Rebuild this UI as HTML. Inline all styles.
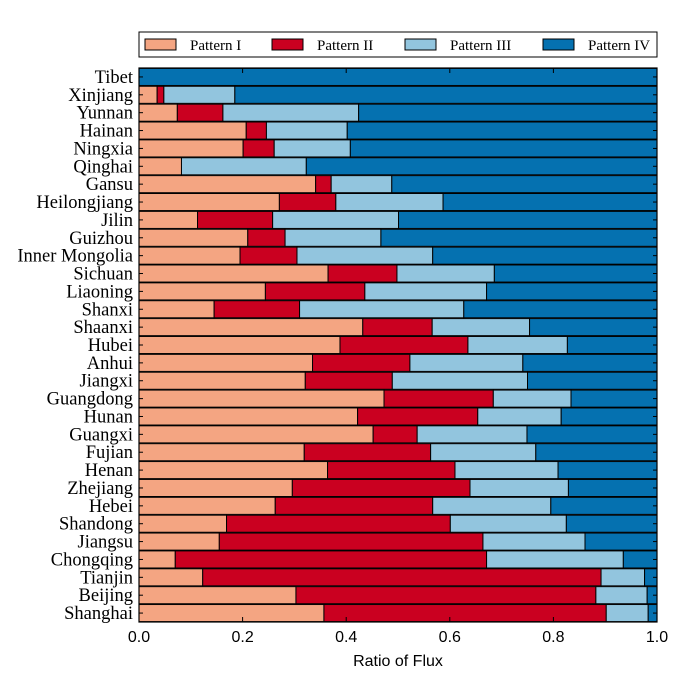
<!DOCTYPE html>
<html><head><meta charset="utf-8"><style>
body{margin:0;background:#fff;width:692px;height:692px;overflow:hidden}
svg text{fill:#000}
</style></head><body>
<svg id="chart" width="692" height="692" xmlns="http://www.w3.org/2000/svg">
<rect x="139" y="32" width="518" height="25" fill="#fff" stroke="#000" stroke-width="1"/>
<g id="legend"></g>
<g id="bars"></g>
<rect x="139" y="68" width="518" height="554" fill="none" stroke="#000" stroke-width="1.2"/>
<g id="axes"></g>
<text x="398" y="666" text-anchor="middle" font-family="Liberation Sans, sans-serif" font-size="16">Ratio of Flux</text>
</svg>
<script>
const categories=["Tibet","Xinjiang","Yunnan","Hainan","Ningxia","Qinghai","Gansu","Heilongjiang","Jilin","Guizhou","Inner Mongolia","Sichuan","Liaoning","Shanxi","Shaanxi","Hubei","Anhui","Jiangxi","Guangdong","Hunan","Guangxi","Fujian","Henan","Zhejiang","Hebei","Shandong","Jiangsu","Chongqing","Tianjin","Beijing","Shanghai"];
const patternI=[0,0.035,0.074,0.207,0.201,0.082,0.341,0.271,0.113,0.210,0.195,0.365,0.244,0.145,0.432,0.388,0.335,0.321,0.473,0.422,0.452,0.319,0.364,0.296,0.263,0.169,0.155,0.070,0.123,0.303,0.357];
const patternII=[0,0.013,0.088,0.039,0.060,0,0.030,0.109,0.145,0.072,0.110,0.133,0.192,0.165,0.134,0.247,0.188,0.168,0.211,0.232,0.085,0.244,0.246,0.343,0.304,0.432,0.509,0.601,0.769,0.579,0.545];
const patternIII=[0,0.137,0.262,0.156,0.147,0.241,0.117,0.207,0.243,0.185,0.262,0.188,0.235,0.317,0.188,0.192,0.218,0.261,0.150,0.161,0.212,0.203,0.199,0.190,0.228,0.224,0.197,0.264,0.084,0.099,0.081];
const legendLabels=["Pattern I","Pattern II","Pattern III","Pattern IV"];
const xTicks=[0,0.2,0.4,0.6,0.8,1.0];
const colors=["#f4a582","#ca0020","#92c5de","#0571b0"];
const NS="http://www.w3.org/2000/svg";
const L=139,R=657,T=68,B=622;
const xScale=v=>L+v*(R-L);
const rowH=(B-T)/categories.length;
const yScale=i=>T+i*rowH;
function mk(tag,attrs,parent){const e=document.createElementNS(NS,tag);for(const k in attrs)e.setAttribute(k,attrs[k]);parent.appendChild(e);return e;}
const gb=document.getElementById('bars'),ga=document.getElementById('axes'),gl=document.getElementById('legend');
categories.forEach((c,i)=>{
  const vals=[patternI[i],patternII[i],patternIII[i]];
  vals.push(1-vals[0]-vals[1]-vals[2]);
  let acc=0;
  const y=yScale(i)+0.4,h=rowH-0.8;
  vals.forEach((v,k)=>{
    if(v>0){
      const r=mk('rect',{x:xScale(acc),y:y,width:xScale(acc+v)-xScale(acc),height:h,fill:colors[k],stroke:"#000","stroke-width":1},gb);
      
      
    }
    acc+=v;
  });
  const t=mk('text',{x:133,y:yScale(i)+rowH/2+6,"text-anchor":"end","font-family":"Liberation Serif, serif","font-size":18.5},ga);
  t.textContent=c;
  
  
  mk('line',{x1:L,x2:L+4,y1:yScale(i)+rowH/2,y2:yScale(i)+rowH/2,stroke:"#000"},ga);
  mk('line',{x1:R-4,x2:R,y1:yScale(i)+rowH/2,y2:yScale(i)+rowH/2,stroke:"#000"},ga);
});
xTicks.forEach(v=>{
  mk('line',{x1:xScale(v),x2:xScale(v),y1:B,y2:B-5,stroke:"#000"},ga);
  mk('line',{x1:xScale(v),x2:xScale(v),y1:T,y2:T+5,stroke:"#000"},ga);
  const t=mk('text',{x:xScale(v),y:B+20,"text-anchor":"middle","font-family":"Liberation Sans, sans-serif","font-size":16},ga);
  t.textContent=v.toFixed(1);
  
  
});
const lx=[145,272,405,543];
legendLabels.forEach((s,k)=>{
  const r=mk('rect',{x:lx[k],y:39,width:31,height:11,fill:colors[k],stroke:"#000","stroke-width":1},gl);
  
  
  const t=mk('text',{x:lx[k]+45,y:50,"font-family":"Liberation Serif, serif","font-size":15},gl);
  t.textContent=s;
  
  
});
</script>
</body></html>
